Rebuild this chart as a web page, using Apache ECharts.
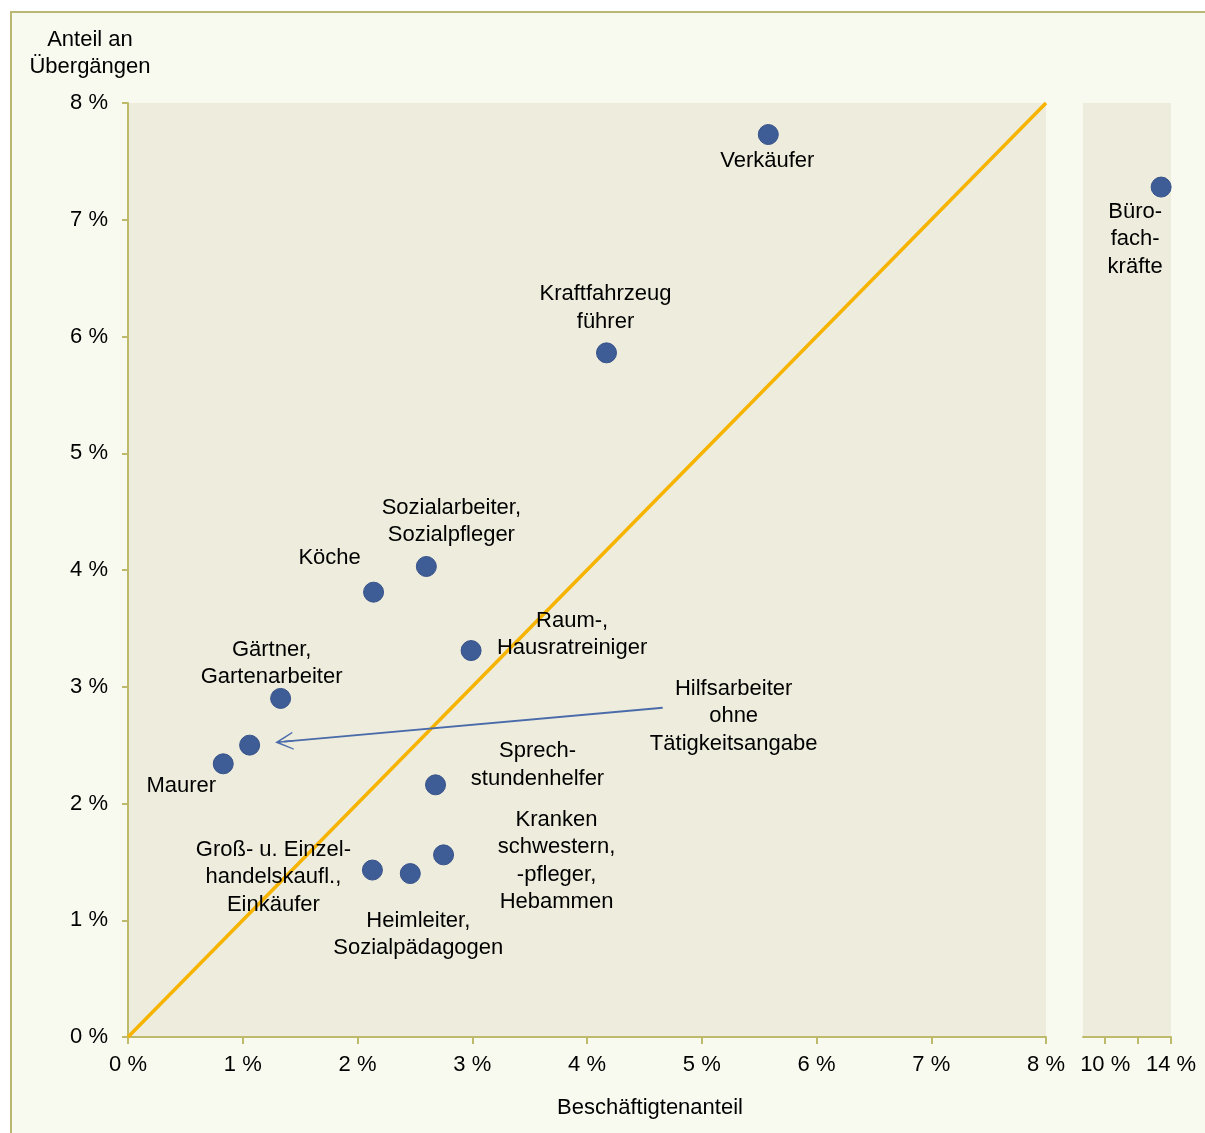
<!DOCTYPE html>
<html>
<head>
<meta charset="utf-8">
<script src="https://cdn.jsdelivr.net/npm/echarts@6/dist/echarts.min.js"></script>
<style>
html,body{margin:0;padding:0;background:#ffffff;overflow:hidden;}
#frame{position:absolute;left:10px;top:11px;width:1210px;height:1140px;border:2px solid #BAB773;background:#F9FAEF;}
#chart{position:absolute;left:0;top:0;width:1205px;height:1133px;}
</style>
</head>
<body>
<div id="frame"></div>
<div id="chart"></div>
<script>
// ---- data ----
var names = ['Verkäufer','Kraftfahrzeug\nführer','Sozialarbeiter,\nSozialpfleger','Köche','Raum-,\nHausratreiniger','Gärtner,\nGartenarbeiter','Hilfsarbeiter\nohne\nTätigkeitsangabe','Maurer','Sprech-\nstundenhelfer','Kranken\nschwestern,\n-pfleger,\nHebammen','Heimleiter,\nSozialpädagogen','Groß- u. Einzel-\nhandelskaufl.,\nEinkäufer'];
var xShare = [5.58, 4.17, 2.60, 2.14, 2.99, 1.33, 1.06, 0.83, 2.68, 2.75, 2.46, 2.13];
var yShare = [7.73, 5.86, 4.03, 3.81, 3.31, 2.90, 2.50, 2.34, 2.16, 1.56, 1.40, 1.43];
var bigName = ['Büro-\nfach-\nkräfte'];
var bigX = [13.4];
var bigY = [7.28];
var diagonal = [[0,0],[8,8]];
var arrowFrom = [4.66, 2.82];
var arrowTo = [1.36, 2.53];
var xTicksBreakLabels = [10,14];
var xTicksBreak = [10,12,14];

// label offsets (layout only)
var labelOffsets = [[-1,26],[-1,-45],[25,-45],[-44,-34],[101,-16],[-9,-35],[484,-29],[-42,22],[102,-20],[113,6],[8,61],[-99,7]];
var bigOffset = [[-26,52]];

var FONT = "'Liberation Sans', Arial, sans-serif";
var axisColor = '#BDBA6C';
var FS = 22;

var mainData = names.map(function(n,i){
  return {name:n, value:[xShare[i], yShare[i]], label:{offset:labelOffsets[i]}};
});
var bigData = bigName.map(function(n,i){
  return {name:n, value:[bigX[i], bigY[i]], label:{offset:bigOffset[i]}};
});

var labelStyle = {
  show:true, position:'inside', formatter:function(p){return p.name;},
  color:'#000', fontSize:FS, fontFamily:FONT, lineHeight:27.5, align:'center', verticalAlign:'middle'
};

var arrowPath = 'path://M9,0 L18,18 L16.6,18 L9.7,5 L9.7,18 L8.3,18 L8.3,5 L1.4,18 L0,18 Z';
var dotStyle = {color:'#3E5C96', borderColor:'#36528A', borderWidth:1, opacity:1};

var chart = echarts.init(document.getElementById('chart'), null, {renderer:'canvas'});
chart.setOption({
  backgroundColor:'transparent',
  animation:false,
  textStyle:{fontFamily:FONT},
  grid:[
    {left:128, top:103, width:918, height:934, show:true, backgroundColor:'#EEECDC', borderWidth:0},
    {left:1083, top:103, width:88, height:934, show:true, backgroundColor:'#EEECDC', borderWidth:0}
  ],
  xAxis:[
    {gridIndex:0, type:'value', min:0, max:8, interval:1,
     name:'Beschäftigtenanteil', nameLocation:'middle', nameGap:60,
     nameTextStyle:{color:'#000', fontSize:FS, fontFamily:FONT, padding:[0,0,0,126]},
     axisLine:{show:true, lineStyle:{color:axisColor, width:2}},
     axisTick:{show:true, length:7, lineStyle:{color:axisColor, width:2}},
     axisLabel:{color:'#000', fontSize:FS, fontFamily:FONT, margin:17, formatter:'{value} %'},
     splitLine:{show:false}},
    {gridIndex:1, type:'value', min:8.65, max:14,
     axisLine:{show:true, lineStyle:{color:axisColor, width:2}},
     axisTick:{show:true, length:7, lineStyle:{color:axisColor, width:2}, customValues:xTicksBreak},
     axisLabel:{color:'#000', fontSize:FS, fontFamily:FONT, margin:17, formatter:'{value} %', customValues:xTicksBreakLabels},
     splitLine:{show:false}}
  ],
  yAxis:[
    {gridIndex:0, type:'value', min:0, max:8, interval:1,
     name:'Anteil an\nÜbergängen', nameLocation:'end', nameGap:22,
     nameTextStyle:{color:'#000', fontSize:FS, fontFamily:FONT, lineHeight:27.5, align:'center', padding:[0,76,0,0]},
     axisLine:{show:true, lineStyle:{color:axisColor, width:2}},
     axisTick:{show:true, length:6, lineStyle:{color:axisColor, width:2}},
     axisLabel:{color:'#000', fontSize:FS, fontFamily:FONT, margin:20, formatter:'{value} %'},
     splitLine:{show:false}},
    {gridIndex:1, type:'value', min:0, max:8, interval:1,
     axisLine:{show:false}, axisTick:{show:false}, axisLabel:{show:false}, splitLine:{show:false}}
  ],
  series:[
    {type:'line', xAxisIndex:0, yAxisIndex:0, data:diagonal, symbol:'none', silent:true, z:1,
     lineStyle:{color:'#F6B300', width:3.5}},
    {type:'scatter', xAxisIndex:0, yAxisIndex:0, data:mainData, symbol:'circle', symbolSize:20, z:3,
     itemStyle:dotStyle,
     label:labelStyle,
     markLine:{silent:true, symbol:['none', arrowPath], symbolSize:[18,18],
       lineStyle:{color:'#4A6BAA', width:1.8, type:'solid', opacity:1}, label:{show:false},
       data:[[{coord:arrowFrom},{coord:arrowTo}]]}},
    {type:'scatter', xAxisIndex:1, yAxisIndex:1, data:bigData, symbol:'circle', symbolSize:20, z:3,
     itemStyle:dotStyle,
     label:labelStyle}
  ]
});
</script>
</body>
</html>
